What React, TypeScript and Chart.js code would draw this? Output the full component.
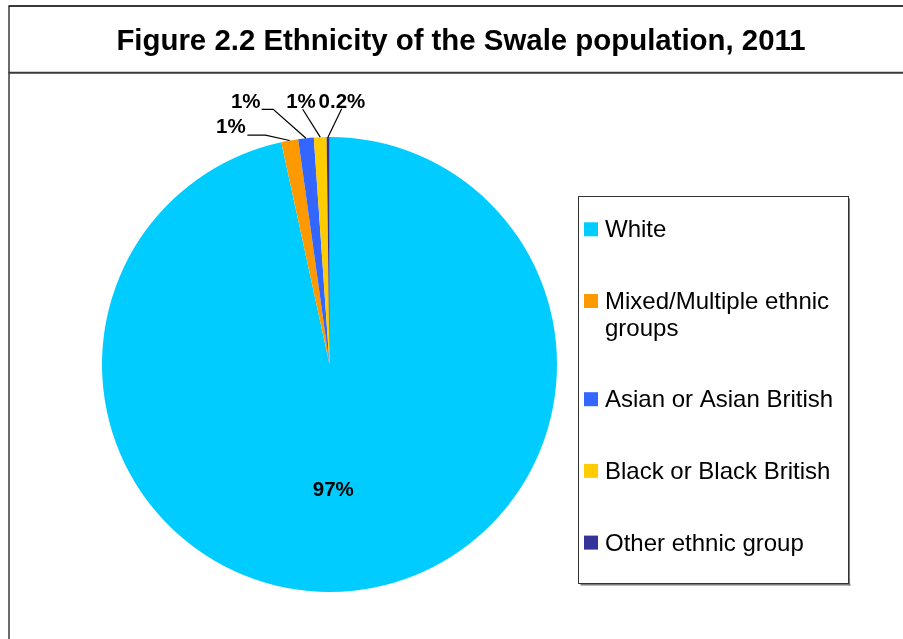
import React, { useEffect, useRef } from "react";
import { Chart, registerables } from "chart.js";

Chart.register(...registerables);

// ---- data ----
const TITLE = "Figure 2.2 Ethnicity of the Swale population, 2011";
const categories = [
  "White",
  "Mixed/Multiple ethnic groups",
  "Asian or Asian British",
  "Black or Black British",
  "Other ethnic group",
];
const legendLines = [
  ["White"],
  ["Mixed/Multiple ethnic", "groups"],
  ["Asian or Asian British"],
  ["Black or Black British"],
  ["Other ethnic group"],
];
const shares = [96.6, 1.2, 1.1, 0.9, 0.2];
const shareLabels = ["97%", "1%", "1%", "1%", "0.2%"];

// ---- styles ----
const colors = ["#00CCFF", "#FF9900", "#3366FF", "#FFCC00", "#333399"];
const FONT = '"Liberation Sans", Arial, Helvetica, sans-serif';
// label centre offsets relative to the slice's outer mid point
const labelOffsets: [number, number][] = [
  [-20.5, -100.3],
  [-58.8, -13.6],
  [-60.2, -35.5],
  [-19.2, -34.5],
  [13.9, -34.3],
];
// leader line points (relative to outer mid point), null = no leader
const leaderPts: ([number, number][] | null)[] = [
  null,
  [[-42.3, -5.3], [-24.3, -5.3]],
  [[-44.3, -28.9], [-32.7, -28.9]],
  [[-17.5, -27.9]],
  [[13.6, -28.3]],
];

const decorPlugin = {
  id: "decor",
  afterDraw(chart: any) {
    const ctx: CanvasRenderingContext2D = chart.ctx;
    ctx.save();
    // frame
    ctx.strokeStyle = "#3a3a3a";
    ctx.lineWidth = 1.5;
    ctx.beginPath();
    ctx.moveTo(9, 6);
    ctx.lineTo(9, 639);
    ctx.stroke();
    ctx.lineWidth = 2;
    ctx.beginPath();
    ctx.moveTo(8.5, 6);
    ctx.lineTo(903, 6);
    ctx.moveTo(8.5, 72.7);
    ctx.lineTo(903, 72.7);
    ctx.stroke();

    // title
    ctx.fillStyle = "#000";
    ctx.font = `bold 29.4px ${FONT}`;
    ctx.textAlign = "center";
    ctx.textBaseline = "alphabetic";
    ctx.fillText(TITLE, 461, 49.5);

    // data labels + leaders
    const meta = chart.getDatasetMeta(0);
    ctx.font = `bold 20.5px ${FONT}`;
    ctx.textAlign = "center";
    ctx.textBaseline = "middle";
    meta.data.forEach((arc: any, i: number) => {
      const p = arc.getProps(["x", "y", "startAngle", "endAngle", "outerRadius"], true);
      const mid = (p.startAngle + p.endAngle) / 2;
      const ex = p.x + Math.cos(mid) * p.outerRadius;
      const ey = p.y + Math.sin(mid) * p.outerRadius;
      const lp = leaderPts[i];
      if (lp) {
        ctx.strokeStyle = "#000";
        ctx.lineWidth = 1.2;
        ctx.beginPath();
        ctx.moveTo(ex + lp[0][0], ey + lp[0][1]);
        for (let k = 1; k < lp.length; k++) ctx.lineTo(ex + lp[k][0], ey + lp[k][1]);
        ctx.lineTo(ex, ey);
        ctx.stroke();
      }
      ctx.fillStyle = "#000";
      ctx.fillText(shareLabels[i], ex + labelOffsets[i][0], ey + labelOffsets[i][1]);
    });

    // legend box
    const bx = 578.5, by = 196.5, bw = 270, bh = 387;
    ctx.fillStyle = "#7a7a7a";
    ctx.fillRect(bx + 2, by + bh, bw, 2);
    ctx.fillRect(bx + bw, by + 2, 1.5, bh);
    ctx.fillStyle = "#fff";
    ctx.fillRect(bx, by, bw, bh);
    ctx.strokeStyle = "#333";
    ctx.lineWidth = 1;
    ctx.strokeRect(bx, by, bw, bh);

    ctx.font = `24px ${FONT}`;
    ctx.textAlign = "left";
    ctx.textBaseline = "alphabetic";
    let baseline = 237.3;
    categories.forEach((_c, i) => {
      ctx.fillStyle = colors[i];
      ctx.fillRect(584, baseline - 15, 14, 14);
      ctx.fillStyle = "#000";
      const lines = legendLines[i];
      lines.forEach((ln, k) => {
        ctx.fillText(ln, 605, baseline + k * 26.5);
      });
      baseline += (lines.length - 1) * 26.5 + 71.7;
    });
    ctx.restore();
  },
};

export default function App() {
  const ref = useRef<HTMLCanvasElement | null>(null);
  useEffect(() => {
    if (!ref.current) return;
    const chart = new Chart(ref.current, {
      type: "pie",
      data: {
        labels: categories,
        datasets: [
          {
            data: shares,
            backgroundColor: colors,
            borderWidth: 0,
            hoverOffset: 0,
            offset: 0,
          },
        ],
      },
      options: {
        responsive: false,
        animation: false,
        events: [],
        layout: { padding: { left: 102, top: 137, right: 346, bottom: 47 } },
        plugins: {
          legend: { display: false },
          title: { display: false },
          tooltip: { enabled: false },
        },
      },
      plugins: [decorPlugin],
    } as any);
    return () => chart.destroy();
  }, []);
  return (
    <div style={{ position: "absolute", left: 0, top: 0, width: 903, height: 639, background: "#fff" }}>
      <canvas ref={ref} width={903} height={639} style={{ display: "block" }} />
    </div>
  );
}
